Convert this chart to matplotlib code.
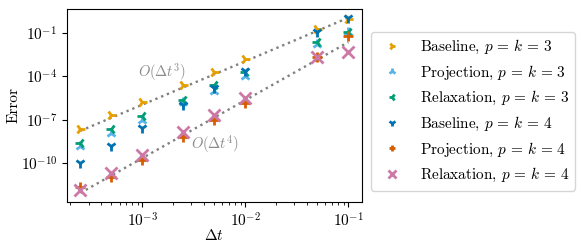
import matplotlib
matplotlib.use("Agg")
import matplotlib.pyplot as plt

plt.rcParams['font.family'] = 'serif'
plt.rcParams['font.serif'] = ['cmr10', 'DejaVu Serif']
plt.rcParams['mathtext.fontset'] = 'cm'
plt.rcParams['axes.formatter.use_mathtext'] = True
plt.rcParams['font.size'] = 11

dt = [2.5e-4, 5e-4, 1e-3, 2.5e-3, 5e-3, 1e-2, 5e-2, 1e-1]

# log10 of error values
baseline3 = [-7.62, -6.70, -5.78, -4.58, -3.70, -2.80, -0.76, -0.08]
projection3 = [-8.80, -7.91, -7.02, -5.80, -5.00, -4.00, -1.76, -0.97]
relaxation3 = [-8.58, -7.66, -6.74, -5.62, -4.62, -3.68, -1.67, -0.93]
baseline4 = [-10.00, -8.80, -7.60, -5.97, -4.80, -3.65, -0.95, 0.00]
projection4 = [-11.65, -10.95, -9.77, -8.20, -7.00, -5.83, -2.66, -1.23]
relaxation4 = [-11.85, -10.70, -9.47, -7.88, -6.70, -5.47, -2.70, -2.32]

labels = [r"Baseline, $p\,=\,k\,=\,3$", r"Projection, $p\,=\,k\,=\,3$", r"Relaxation, $p\,=\,k\,=\,3$",
          r"Baseline, $p\,=\,k\,=\,4$", r"Projection, $p\,=\,k\,=\,4$", r"Relaxation, $p\,=\,k\,=\,4$"]
colors = ["#E69F00", "#56B4E9", "#009E73", "#0072B2", "#D55E00", "#CC79A7"]
markers = ["4", "2", "3", "1", "+", "x"]

ref_dt = [2.5e-4, 1e-1]
ref3 = [1.7e-8, 1.09]
ref4 = [8.7e-13, 2.24e-2]

fig = plt.figure(figsize=(5.81, 2.5), dpi=100)
ax = fig.add_axes([0.1153, 0.193, 0.5072, 0.771])

series = [baseline3, projection3, relaxation3, baseline4, projection4, relaxation4]
ax.plot(ref_dt, ref3, ':', color='gray', lw=1.7, zorder=1)
ax.plot(ref_dt, ref4, ':', color='gray', lw=1.7, zorder=1)
for s, lab, c, m in zip(series, labels, colors, markers):
    ms = 9 if m == 'x' else 7.5
    ax.plot(dt, [10 ** v for v in s], linestyle='none', marker=m, color=c,
            markersize=ms, markeredgewidth=2, label=lab, zorder=2)

ax.set_xscale('log')
ax.set_yscale('log')
ax.set_xlabel(r"$\Delta t$", labelpad=-1)
ax.set_ylabel("Error", labelpad=0)

ax.text(1.55e-3, 1.9e-4, r"$O(\Delta t^3)$", color='#8c8c8c', ha='center', va='center', fontsize=10.5)
ax.text(5.1e-3, 2.2e-9, r"$O(\Delta t^4)$", color='#8c8c8c', ha='center', va='center', fontsize=10.5)

fig.legend(loc='upper left', bbox_to_anchor=(0.6386, 0.873), borderaxespad=0, markerscale=0.65)

fig.savefig("out.png", dpi=100)
